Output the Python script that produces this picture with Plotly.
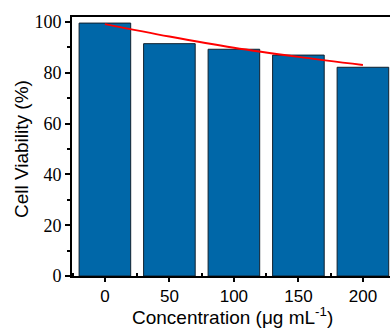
import plotly.graph_objects as go

categories = ["0", "50", "100", "150", "200"]
viability = [99.6, 91.5, 89.3, 87.0, 82.2]
trend = [99.2, 94.3, 89.9, 86.3, 83.1]
y_ticks = [0, 20, 40, 60, 80, 100]

xpos = list(range(len(categories)))

fig = go.Figure()
fig.add_trace(go.Bar(
    x=xpos, y=viability, width=0.8,
    marker=dict(color="#0067a8", line=dict(color="#10202e", width=1)),
    showlegend=False,
))
fig.add_trace(go.Scatter(
    x=xpos, y=trend, mode="lines",
    line=dict(color="#ff0000", width=2, shape="spline"),
    showlegend=False,
))

fig.update_layout(
    width=390, height=329,
    margin=dict(l=72, r=0, t=17, b=53),
    plot_bgcolor="white", paper_bgcolor="white",
    bargap=0.2,
    annotations=[
        dict(text="Concentration (μg mL<sup>-1</sup>)", xref="paper", yref="paper",
             x=0.505, y=0, yshift=-40, xanchor="center", yanchor="middle",
             showarrow=False,
             font=dict(family="Liberation Sans, Arial", size=19, color="black")),
        dict(text="Cell Viability (%)", xref="paper", yref="paper",
             x=0, xshift=-51, y=0.49, xanchor="center", yanchor="middle",
             textangle=-90, showarrow=False,
             font=dict(family="Liberation Sans, Arial", size=19, color="black")),
    ],
)
fig.update_xaxes(
    automargin=False,
    range=[-0.51, 4.42],
    tickmode="array", tickvals=xpos, ticktext=categories,
    ticks="outside", ticklen=4, tickwidth=2, tickcolor="black",
    showline=True, linecolor="black", linewidth=2, mirror=True,
    showgrid=False, zeroline=False,
    tickfont=dict(family="Liberation Sans, Arial", size=17, color="black"),
    minor=dict(tickmode="linear", tick0=0.5, dtick=1, ticks="inside",
               ticklen=3, tickwidth=2, tickcolor="black"),
)
fig.update_yaxes(
    automargin=False,
    range=[0, 102],
    tickmode="array", tickvals=y_ticks,
    ticks="outside", ticklen=5, tickwidth=2, tickcolor="black",
    showline=True, linecolor="black", linewidth=2,
    showgrid=False, zeroline=False,
    tickfont=dict(family="Liberation Serif, Times New Roman", size=18, color="black"),
    minor=dict(tickmode="linear", tick0=10, dtick=20, ticks="outside",
               ticklen=3, tickwidth=2, tickcolor="black"),
)

fig.write_html("out.html", config={"displayModeBar": False},
               post_script="document.body.style.margin='0';document.body.style.overflow='hidden';")
